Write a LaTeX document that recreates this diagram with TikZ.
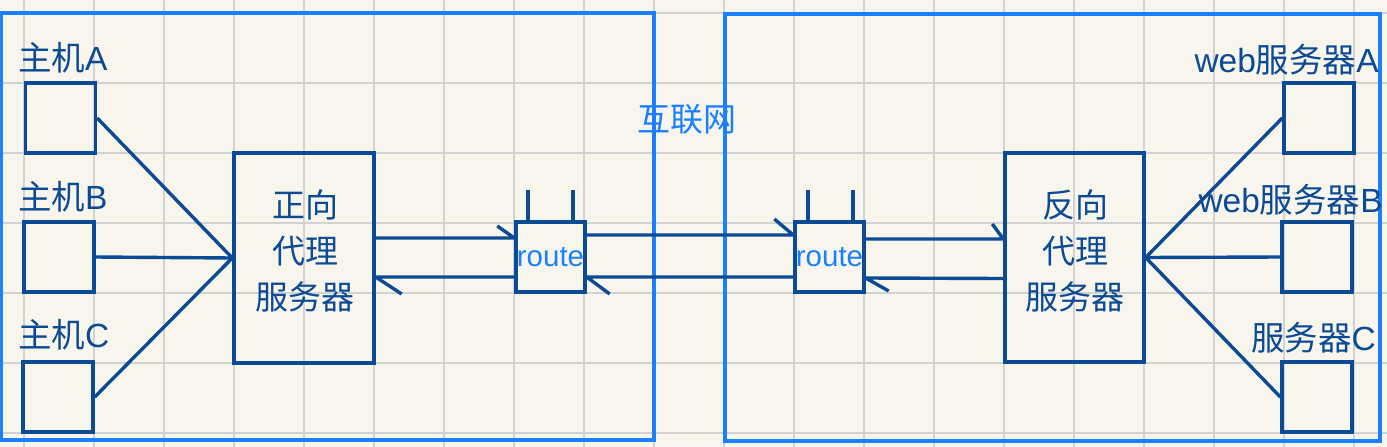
\documentclass[tikz,border=0pt]{standalone}
\usepackage{fontspec}
\setmainfont{Liberation Sans}
\newfontfamily\cjk{Noto Sans CJK SC}
\usetikzlibrary{calc}
\definecolor{bg}{HTML}{F8F6EC}
\definecolor{gridc}{HTML}{D2D2D2}
\definecolor{dk}{HTML}{0B4A94}
\definecolor{br}{HTML}{1A80FF}
\begin{document}
\begin{tikzpicture}[x=1pt,y=-1pt,
  box/.style={draw=dk, line width=3.4pt, inner sep=0pt},
  hostbox/.style={box, minimum width=70pt, minimum height=70pt},
  routerbox/.style={box, minimum width=69pt, minimum height=70pt, text=br, font=\fontsize{29.5}{32}\selectfont},
  ln/.style={draw=dk, line width=3.4pt},
  frame/.style={draw=br, line width=3.6pt, inner sep=0pt},
  lbl/.style={text=dk, font=\fontsize{33.5}{46}\selectfont, inner sep=0pt},
  cjklbl/.style={lbl, font=\fontsize{33}{46}\selectfont\cjk, align=center},
  gridline/.style={draw=gridc, line width=2pt}]
\fill[bg] (0,0) rectangle (1387,447);
\useasboundingbox (0,0) rectangle (1387,447);
\foreach \x in {24,94,...,1354} \draw[gridline] (\x,0) -- (\x,447);
\foreach \y in {13,83,...,433} \draw[gridline] (0,\y) -- (1387,\y);

% frames
\node[frame, minimum width=653pt, minimum height=427pt] (lan) at (327.5,226.5) {};
\node[frame, minimum width=655pt, minimum height=427pt] (wan) at (1052.5,227.5) {};
\node[text=br, font=\fontsize{33}{36}\selectfont\cjk, inner sep=0pt] (net) at (687,119) {互联网};

% hosts
\node[hostbox] (hA) at (60.5,118) {};
\node[hostbox] (hB) at (59,257) {};
\node[hostbox] (hC) at (58,397) {};
\node[lbl, anchor=west] (lA) at (18,58) {{\cjk 主机}A};
\node[lbl, anchor=west] (lB) at (18,197) {{\cjk 主机}B};
\node[lbl, anchor=west] (lC) at (18,335) {{\cjk 主机}C};

% forward proxy
\node[box, minimum width=140pt, minimum height=210pt] (px) at (304,258) {};
\node[cjklbl] (pxt) at (305,251) {正向\\代理\\服务器};

% routers
\node[routerbox] (r1) at (550.5,257) {route};
\node[routerbox] (r2) at (829.5,257) {route};
\draw[ln] ($(r1.north)+(-22.5,0)$) -- ++(0,-30);
\draw[ln] ($(r1.north)+(22.5,0)$) -- ++(0,-30);
\draw[ln] ($(r2.north)+(-21.5,0)$) -- ++(0,-30);
\draw[ln] ($(r2.north)+(23.5,0)$) -- ++(0,-30);

% reverse proxy
\node[box, minimum width=139pt, minimum height=209pt] (rp) at (1074.5,257.5) {};
\node[cjklbl] (rpt) at (1075,251) {反向\\代理\\服务器};

% web servers
\node[hostbox] (wA) at (1319,118) {};
\node[hostbox] (wB) at (1317,257) {};
\node[hostbox] (wC) at (1317,397) {};
\node[lbl, anchor=east] (lwA) at (1379,60) {web{\cjk 服务器}A};
\node[lbl, anchor=east] (lwB) at (1383,200) {web{\cjk 服务器}B};
\node[lbl, anchor=east] (lwC) at (1376,338) {{\cjk 服务器}C};

% host connectors
\draw[ln] (hA.east) -- (px.west);
\draw[ln] (hB.east) -- (px.west);
\draw[ln] (hC.east) -- (px.west);
\draw[ln] (rp.east) -- (wA.west);
\draw[ln] (rp.east) -- (wB.west);
\draw[ln] (rp.east) -- (wC.west);

% half-arrow links
\draw[ln] ($(px.east)+(0,-20)$) -- ($(r1.west)+(0,-19)$) ++(0,0) -- ++(-17,-12);
\draw[ln] ($(r1.west)+(0,20)$) -- ($(px.east)+(0,19)$) ++(0,0) -- ++(26,17);
\draw[ln] ($(r1.east)+(0,-22)$) -- ($(r2.west)+(0,-22)$) ++(0,0) -- ++(-19,-16);
\draw[ln] ($(r2.west)+(0,20)$) -- ($(r1.east)+(0,20)$) ++(0,0) -- ++(23,17);
\draw[ln] ($(r2.east)+(0,-18)$) -- ($(rp.west)+(0,-18.5)$) ++(0,0) -- ++(-11,-15);
\draw[ln] ($(rp.west)+(0,21)$) -- ($(r2.east)+(0,21)$) ++(0,0) -- ++(23,13);
\end{tikzpicture}
\end{document}
